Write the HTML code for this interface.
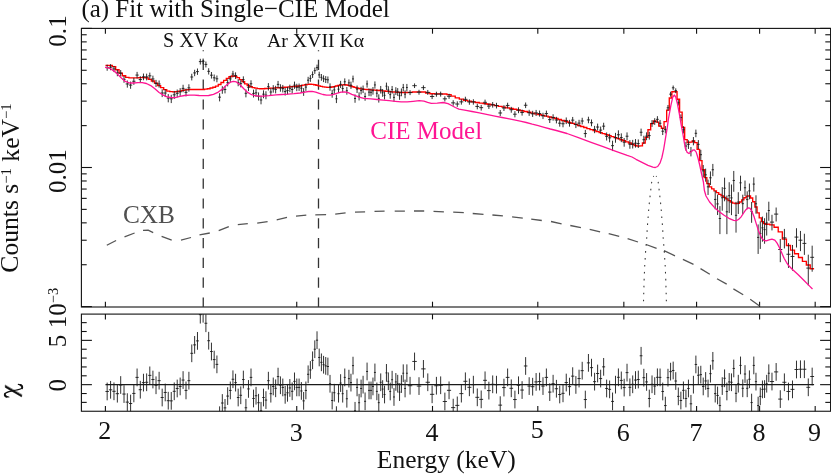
<!DOCTYPE html>
<html><head><meta charset="utf-8"><title>Fit with Single-CIE Model</title>
<style>html,body{margin:0;padding:0;background:#fff;overflow:hidden}svg{display:block;will-change:transform}text{font-family:"Liberation Serif",serif}</style>
</head><body>
<svg width="831" height="474" viewBox="0 0 831 474">
<rect width="831" height="474" fill="#fff"/>
<rect x="81.4" y="28.4" width="749.2" height="278.6" fill="none" stroke="#111" stroke-width="1.1"/>
<rect x="81.4" y="314.1" width="749.2" height="97.15" fill="none" stroke="#111" stroke-width="1.1"/>
<line x1="105.4" y1="28.4" x2="105.4" y2="33.7" stroke="#111" stroke-width="1.1" />
<line x1="105.4" y1="307" x2="105.4" y2="301.7" stroke="#111" stroke-width="1.1" />
<line x1="105.4" y1="314.1" x2="105.4" y2="319.4" stroke="#111" stroke-width="1.1" />
<line x1="105.4" y1="411.25" x2="105.4" y2="405.95" stroke="#111" stroke-width="1.1" />
<line x1="296.74" y1="28.4" x2="296.74" y2="33.7" stroke="#111" stroke-width="1.1" />
<line x1="296.74" y1="307" x2="296.74" y2="301.7" stroke="#111" stroke-width="1.1" />
<line x1="296.74" y1="314.1" x2="296.74" y2="319.4" stroke="#111" stroke-width="1.1" />
<line x1="296.74" y1="411.25" x2="296.74" y2="405.95" stroke="#111" stroke-width="1.1" />
<line x1="432.5" y1="28.4" x2="432.5" y2="33.7" stroke="#111" stroke-width="1.1" />
<line x1="432.5" y1="307" x2="432.5" y2="301.7" stroke="#111" stroke-width="1.1" />
<line x1="432.5" y1="314.1" x2="432.5" y2="319.4" stroke="#111" stroke-width="1.1" />
<line x1="432.5" y1="411.25" x2="432.5" y2="405.95" stroke="#111" stroke-width="1.1" />
<line x1="537.8" y1="28.4" x2="537.8" y2="33.7" stroke="#111" stroke-width="1.1" />
<line x1="537.8" y1="307" x2="537.8" y2="301.7" stroke="#111" stroke-width="1.1" />
<line x1="537.8" y1="314.1" x2="537.8" y2="319.4" stroke="#111" stroke-width="1.1" />
<line x1="537.8" y1="411.25" x2="537.8" y2="405.95" stroke="#111" stroke-width="1.1" />
<line x1="623.84" y1="28.4" x2="623.84" y2="33.7" stroke="#111" stroke-width="1.1" />
<line x1="623.84" y1="307" x2="623.84" y2="301.7" stroke="#111" stroke-width="1.1" />
<line x1="623.84" y1="314.1" x2="623.84" y2="319.4" stroke="#111" stroke-width="1.1" />
<line x1="623.84" y1="411.25" x2="623.84" y2="405.95" stroke="#111" stroke-width="1.1" />
<line x1="696.58" y1="28.4" x2="696.58" y2="33.7" stroke="#111" stroke-width="1.1" />
<line x1="696.58" y1="307" x2="696.58" y2="301.7" stroke="#111" stroke-width="1.1" />
<line x1="696.58" y1="314.1" x2="696.58" y2="319.4" stroke="#111" stroke-width="1.1" />
<line x1="696.58" y1="411.25" x2="696.58" y2="405.95" stroke="#111" stroke-width="1.1" />
<line x1="759.6" y1="28.4" x2="759.6" y2="33.7" stroke="#111" stroke-width="1.1" />
<line x1="759.6" y1="307" x2="759.6" y2="301.7" stroke="#111" stroke-width="1.1" />
<line x1="759.6" y1="314.1" x2="759.6" y2="319.4" stroke="#111" stroke-width="1.1" />
<line x1="759.6" y1="411.25" x2="759.6" y2="405.95" stroke="#111" stroke-width="1.1" />
<line x1="815.18" y1="28.4" x2="815.18" y2="33.7" stroke="#111" stroke-width="1.1" />
<line x1="815.18" y1="307" x2="815.18" y2="301.7" stroke="#111" stroke-width="1.1" />
<line x1="815.18" y1="314.1" x2="815.18" y2="319.4" stroke="#111" stroke-width="1.1" />
<line x1="815.18" y1="411.25" x2="815.18" y2="405.95" stroke="#111" stroke-width="1.1" />
<line x1="81.4" y1="28.4" x2="91.9" y2="28.4" stroke="#111" stroke-width="1.1" />
<line x1="830.6" y1="28.4" x2="820.1" y2="28.4" stroke="#111" stroke-width="1.1" />
<line x1="81.4" y1="167.5" x2="91.9" y2="167.5" stroke="#111" stroke-width="1.1" />
<line x1="830.6" y1="167.5" x2="820.1" y2="167.5" stroke="#111" stroke-width="1.1" />
<line x1="81.4" y1="125.63" x2="86.7" y2="125.63" stroke="#111" stroke-width="1.1" />
<line x1="830.6" y1="125.63" x2="825.3" y2="125.63" stroke="#111" stroke-width="1.1" />
<line x1="81.4" y1="101.13" x2="86.7" y2="101.13" stroke="#111" stroke-width="1.1" />
<line x1="830.6" y1="101.13" x2="825.3" y2="101.13" stroke="#111" stroke-width="1.1" />
<line x1="81.4" y1="83.75" x2="86.7" y2="83.75" stroke="#111" stroke-width="1.1" />
<line x1="830.6" y1="83.75" x2="825.3" y2="83.75" stroke="#111" stroke-width="1.1" />
<line x1="81.4" y1="70.27" x2="86.7" y2="70.27" stroke="#111" stroke-width="1.1" />
<line x1="830.6" y1="70.27" x2="825.3" y2="70.27" stroke="#111" stroke-width="1.1" />
<line x1="81.4" y1="59.26" x2="86.7" y2="59.26" stroke="#111" stroke-width="1.1" />
<line x1="830.6" y1="59.26" x2="825.3" y2="59.26" stroke="#111" stroke-width="1.1" />
<line x1="81.4" y1="49.95" x2="86.7" y2="49.95" stroke="#111" stroke-width="1.1" />
<line x1="830.6" y1="49.95" x2="825.3" y2="49.95" stroke="#111" stroke-width="1.1" />
<line x1="81.4" y1="41.88" x2="86.7" y2="41.88" stroke="#111" stroke-width="1.1" />
<line x1="830.6" y1="41.88" x2="825.3" y2="41.88" stroke="#111" stroke-width="1.1" />
<line x1="81.4" y1="34.76" x2="86.7" y2="34.76" stroke="#111" stroke-width="1.1" />
<line x1="830.6" y1="34.76" x2="825.3" y2="34.76" stroke="#111" stroke-width="1.1" />
<line x1="81.4" y1="306.6" x2="91.9" y2="306.6" stroke="#111" stroke-width="1.1" />
<line x1="830.6" y1="306.6" x2="820.1" y2="306.6" stroke="#111" stroke-width="1.1" />
<line x1="81.4" y1="264.73" x2="86.7" y2="264.73" stroke="#111" stroke-width="1.1" />
<line x1="830.6" y1="264.73" x2="825.3" y2="264.73" stroke="#111" stroke-width="1.1" />
<line x1="81.4" y1="240.23" x2="86.7" y2="240.23" stroke="#111" stroke-width="1.1" />
<line x1="830.6" y1="240.23" x2="825.3" y2="240.23" stroke="#111" stroke-width="1.1" />
<line x1="81.4" y1="222.85" x2="86.7" y2="222.85" stroke="#111" stroke-width="1.1" />
<line x1="830.6" y1="222.85" x2="825.3" y2="222.85" stroke="#111" stroke-width="1.1" />
<line x1="81.4" y1="209.37" x2="86.7" y2="209.37" stroke="#111" stroke-width="1.1" />
<line x1="830.6" y1="209.37" x2="825.3" y2="209.37" stroke="#111" stroke-width="1.1" />
<line x1="81.4" y1="198.36" x2="86.7" y2="198.36" stroke="#111" stroke-width="1.1" />
<line x1="830.6" y1="198.36" x2="825.3" y2="198.36" stroke="#111" stroke-width="1.1" />
<line x1="81.4" y1="189.05" x2="86.7" y2="189.05" stroke="#111" stroke-width="1.1" />
<line x1="830.6" y1="189.05" x2="825.3" y2="189.05" stroke="#111" stroke-width="1.1" />
<line x1="81.4" y1="180.98" x2="86.7" y2="180.98" stroke="#111" stroke-width="1.1" />
<line x1="830.6" y1="180.98" x2="825.3" y2="180.98" stroke="#111" stroke-width="1.1" />
<line x1="81.4" y1="173.86" x2="86.7" y2="173.86" stroke="#111" stroke-width="1.1" />
<line x1="830.6" y1="173.86" x2="825.3" y2="173.86" stroke="#111" stroke-width="1.1" />
<line x1="81.4" y1="402.38" x2="86.7" y2="402.38" stroke="#111" stroke-width="1.1" />
<line x1="830.6" y1="402.38" x2="825.3" y2="402.38" stroke="#111" stroke-width="1.1" />
<line x1="81.4" y1="393.52" x2="86.7" y2="393.52" stroke="#111" stroke-width="1.1" />
<line x1="830.6" y1="393.52" x2="825.3" y2="393.52" stroke="#111" stroke-width="1.1" />
<line x1="81.4" y1="384.66" x2="91.9" y2="384.66" stroke="#111" stroke-width="1.1" />
<line x1="830.6" y1="384.66" x2="820.1" y2="384.66" stroke="#111" stroke-width="1.1" />
<line x1="81.4" y1="375.8" x2="86.7" y2="375.8" stroke="#111" stroke-width="1.1" />
<line x1="830.6" y1="375.8" x2="825.3" y2="375.8" stroke="#111" stroke-width="1.1" />
<line x1="81.4" y1="366.94" x2="86.7" y2="366.94" stroke="#111" stroke-width="1.1" />
<line x1="830.6" y1="366.94" x2="825.3" y2="366.94" stroke="#111" stroke-width="1.1" />
<line x1="81.4" y1="358.08" x2="86.7" y2="358.08" stroke="#111" stroke-width="1.1" />
<line x1="830.6" y1="358.08" x2="825.3" y2="358.08" stroke="#111" stroke-width="1.1" />
<line x1="81.4" y1="349.22" x2="86.7" y2="349.22" stroke="#111" stroke-width="1.1" />
<line x1="830.6" y1="349.22" x2="825.3" y2="349.22" stroke="#111" stroke-width="1.1" />
<line x1="81.4" y1="340.36" x2="91.9" y2="340.36" stroke="#111" stroke-width="1.1" />
<line x1="830.6" y1="340.36" x2="820.1" y2="340.36" stroke="#111" stroke-width="1.1" />
<line x1="81.4" y1="331.5" x2="86.7" y2="331.5" stroke="#111" stroke-width="1.1" />
<line x1="830.6" y1="331.5" x2="825.3" y2="331.5" stroke="#111" stroke-width="1.1" />
<line x1="81.4" y1="322.64" x2="86.7" y2="322.64" stroke="#111" stroke-width="1.1" />
<line x1="830.6" y1="322.64" x2="825.3" y2="322.64" stroke="#111" stroke-width="1.1" />
<path d="M203.25 50.2V51.3M203.25 59.8V70M203.25 79.6V89.8M203.25 99.4V109.6M203.25 119.2V129.4M203.25 139V149.2M203.25 158.8V169M203.25 178.6V188.8M203.25 198.4V208.6M203.25 218.2V228.4M203.25 238V248.2M203.25 257.8V268M203.25 277.6V287.8M203.25 297.4V307" stroke="#333" stroke-width="1.3" fill="none"/>
<path d="M318.5 50.2V51.3M318.5 59.8V70M318.5 79.6V89.8M318.5 99.4V109.6M318.5 119.2V129.4M318.5 139V149.2M318.5 158.8V169M318.5 178.6V188.8M318.5 198.4V208.6M318.5 218.2V228.4M318.5 238V248.2M318.5 257.8V268M318.5 277.6V287.8M318.5 297.4V307" stroke="#333" stroke-width="1.3" fill="none"/>
<path d="M106.8 245.3 L116.1 240.5M124.5 236.8 L134.6 233M143 230.4 L148.1 230.2 L153.2 232.6M161.6 236.3 L171.7 240.2M181 240.2 L191 237.5M199.5 234.8 L209.8 233M218.7 230.7 L228.8 226.6M237.8 224.6 L247.8 223.6M257.2 223.2 L267.6 221.6M276.7 219.8 L287 217.4M296 216.1 L306.3 215.1M315.3 214.8 L326.1 214.7M335.2 214.2 L345.6 212.8M355 212.2 L365.1 211.9M374.5 211.3 L384.6 211.2M394.7 211.2 L404.9 211.2M414 211 L424.2 211M433.5 211.3 L443.9 211.8M453.2 212.2 L463.8 212.7M472.7 213.5 L483.5 214.4M492.4 215 L502.9 215.9M512.1 216.9 L522.8 218.1M531.2 219.1 L541.8 220.5M551 221.5 L561.6 223.8M570.3 225.5 L580.9 227.7M589.7 229.4 L600.1 231.9M608.7 233.6 L619.2 236.4M627.6 238.6 L638 242M646.1 244.5 L656.6 248.4M664 250.6 L675 255.8M682.9 259.4 L693.5 264.4M700.5 268.6 L709.8 274.2M717 278.7 L726.7 284.1M733.4 288.9 L743.2 294.7M750.2 299.3 L759.6 305.9" stroke="#555" stroke-width="1.28" fill="none" stroke-linejoin="round"/>
<path d="M653.65 176 L653.33 177 L653.02 178 L652.7 179 L652.38 180 L652.06 181 L651.75 182 L651.57 183 L651.45 184 L651.34 185 L651.22 186 L651.1 187 L650.99 188 L650.87 189 L650.76 190 L650.65 191 L650.54 192 L650.43 193 L650.32 194 L650.21 195 L650.1 196 L649.99 197 L649.87 198 L649.76 199 L649.64 200 L649.53 201 L649.41 202 L649.3 203 L649.21 204 L649.12 205 L649.03 206 L648.94 207 L648.85 208 L648.76 209 L648.67 210 L648.59 211 L648.52 212 L648.44 213 L648.37 214 L648.3 215 L648.22 216 L648.15 217 L648.07 218 L647.99 219 L647.91 220 L647.83 221 L647.75 222 L647.67 223 L647.59 224 L647.52 225 L647.44 226 L647.37 227 L647.29 228 L647.22 229 L647.14 230 L647.08 231 L647.03 232 L646.98 233 L646.93 234 L646.88 235 L646.83 236 L646.78 237 L646.73 238 L646.64 239 L646.56 240 L646.48 241 L646.39 242 L646.31 243 L646.23 244 L646.15 245 L646.06 246 L645.98 247 L645.9 248 L645.82 249 L645.73 250 L645.65 251 L645.59 252 L645.52 253 L645.46 254 L645.39 255 L645.33 256 L645.26 257 L645.2 258 L645.14 259 L645.07 260 L645.01 261 L644.94 262 L644.88 263 L644.81 264 L644.75 265 L644.71 266 L644.66 267 L644.62 268 L644.58 269 L644.54 270 L644.49 271 L644.45 272 L644.41 273 L644.36 274 L644.32 275 L644.28 276 L644.24 277 L644.19 278 L644.15 279 L644.12 280 L644.09 281 L644.06 282 L644.04 283 L644.01 284 L643.98 285 L643.95 286 L643.92 287 L643.89 288 L643.86 289 L643.84 290 L643.81 291 L643.78 292 L643.75 293 L643.72 294 L643.7 295 L643.67 296 L643.65 297 L643.62 298 L643.6 299 L643.57 300 L643.54 301 L643.52 302 L643.49 303 L643.47 304 L643.44 305 L643.42 306 L643.4 306.6" stroke="#333" stroke-width="1.05" fill="none" stroke-dasharray="1.6 5.35" stroke-dashoffset="0.8"/>
<path d="M656.25 176 L656.57 177 L656.88 178 L657.2 179 L657.52 180 L657.84 181 L658.15 182 L658.33 183 L658.45 184 L658.56 185 L658.68 186 L658.8 187 L658.91 188 L659.03 189 L659.14 190 L659.25 191 L659.36 192 L659.47 193 L659.58 194 L659.69 195 L659.8 196 L659.91 197 L660.03 198 L660.14 199 L660.26 200 L660.37 201 L660.49 202 L660.6 203 L660.69 204 L660.78 205 L660.87 206 L660.96 207 L661.05 208 L661.14 209 L661.23 210 L661.31 211 L661.38 212 L661.46 213 L661.53 214 L661.6 215 L661.68 216 L661.75 217 L661.83 218 L661.91 219 L661.99 220 L662.07 221 L662.15 222 L662.23 223 L662.31 224 L662.38 225 L662.46 226 L662.53 227 L662.61 228 L662.68 229 L662.76 230 L662.82 231 L662.87 232 L662.92 233 L662.97 234 L663.02 235 L663.07 236 L663.12 237 L663.17 238 L663.26 239 L663.34 240 L663.42 241 L663.51 242 L663.59 243 L663.67 244 L663.75 245 L663.84 246 L663.92 247 L664 248 L664.08 249 L664.17 250 L664.25 251 L664.31 252 L664.38 253 L664.44 254 L664.51 255 L664.57 256 L664.64 257 L664.7 258 L664.76 259 L664.83 260 L664.89 261 L664.96 262 L665.02 263 L665.09 264 L665.15 265 L665.19 266 L665.24 267 L665.28 268 L665.32 269 L665.36 270 L665.41 271 L665.45 272 L665.49 273 L665.54 274 L665.58 275 L665.62 276 L665.66 277 L665.71 278 L665.75 279 L665.78 280 L665.81 281 L665.84 282 L665.86 283 L665.89 284 L665.92 285 L665.95 286 L665.98 287 L666.01 288 L666.04 289 L666.06 290 L666.09 291 L666.12 292 L666.15 293 L666.18 294 L666.2 295 L666.23 296 L666.25 297 L666.28 298 L666.3 299 L666.33 300 L666.36 301 L666.38 302 L666.41 303 L666.43 304 L666.46 305 L666.48 306 L666.5 306.6" stroke="#333" stroke-width="1.05" fill="none" stroke-dasharray="1.6 5.35" stroke-dashoffset="0.8"/>
<path d="M105.45 65.33H108.88V65.37H112.29V66.66H115.67V69.75H119.03V73.05H122.36V75.73H125.67V77.3H128.96V77.83H132.23V77.9H135.47V77.82H138.69V77.62H141.89V77.56H145.07V77.83H148.23V79.4H151.36V80.98H154.48V83.1H157.57V85.61H160.65V87.62H163.7V89.68H166.74V91.05H169.75V91.64H172.75V91.9H175.72V91.68H178.68V91.11H181.62V90.38H184.55V89.85H187.45V89.55H190.34V89.5H193.2V89.5H196.06V89.5H198.89V89.5H201.71V89.5H204.51V89.17H207.29V88.7H210.06V88.02H212.81V87.22H215.55V86.08H218.27V84.51H220.97V82.49H223.66V80.32H226.33V78.33H228.99V76.75H231.64V76.02H234.27V76.33H236.88V77.69H239.48V79.55H242.07V81.69H244.64V83.83H247.2V85.53H249.74V86.77H252.27V87.61H254.79V88.17H257.29V88.59H259.78V88.7H262.26V88.7H264.72V88.54H267.17V88.34H269.61V88.19H272.04V88.06H274.45V87.92H276.85V87.76H279.24V87.6H281.62V87.45H283.99V87.29H286.34V87.13H288.68V86.92H291.01V86.69H293.33V86.46H295.64V86.23H297.93V86H300.22V85.64H302.49V85.17H304.76V84.74H307.01V84.36H309.25V84.25H311.48V84.3H313.7V84.73H315.91V85.27H318.11V85.88H320.3V86.37H322.48V86.81H324.65V87.16H326.81V87.3H328.96V87.3H331.1V86.97H333.23V86.56H335.35V85.97H337.47V85.45H339.57V84.99H341.66V84.81H343.74V84.72H345.82V84.95H347.88V85.34H349.94V86.02H351.99V86.7H354.03V87.38H356.06V87.96H358.08V88.51H360.09V88.84H362.09V89.17H364.09V89.38H366.08V89.52H368.05V89.66H370.02V89.8H371.99V89.96H373.94V90.13H375.89V90.29H377.82V90.48H379.75V90.67H381.68V90.85H383.59V91.04H385.5V91.23H387.4V91.42H389.29V91.61H391.17V91.8H393.05V91.99H394.92V92.15H396.78V92.27H398.63V92.4H400.48V92.5H402.32V92.5H404.15V92.5H405.98V92.5H407.8V92.3H412.31V92.03H416.79V91.81H421.22V91.98H425.61V93.04H429.96V93.73H434.27V93.87H438.54V93.9H442.77V94.04H446.96V94.65H451.12V96.19H455.24V97.87H459.33V99.19H463.38V100.33H467.4V101.18H471.38V101.9H475.33V102.48H479.24V103.06H483.13V103.64H486.98V104.22H490.8V104.88H494.59V105.57H498.35V106.32H502.08V107.07H505.78V107.8H509.46V108.53H513.1V109.24H516.72V109.96H520.3V110.71H523.87V111.48H527.4V112.29H530.91V113.1H534.39V113.85H537.85V114.6H541.28V115.34H544.69V116.14H548.07V116.97H551.43V117.75H554.76V118.54H558.08V119.52H561.36V120.5H564.63V121.48H567.87V122.43H571.1V123.38H574.29V124.43H577.47V125.48H580.63V126.48H583.76V127.48H586.88V128.57H589.97V129.64H593.05V130.66H596.1V131.67H599.14V132.68H602.15V133.68H605.15V134.66H608.13V135.64H611.09V136.62H614.03V137.61H616.95V138.67H619.85V139.74H622.74V140.79H625.61V141.84H628.46V143.02H631.29V144.21H634.11V145.46H636.91V146.1H639.69V145.92H642.46V143.01H645.21V137.36H647.95V129.78H650.67V123.58H653.37V120.91H656.06V122.1H658.74V126.1H661.39V128.42H664.04V121.58H666.67V110.14H669.28V97.96H671.88V91.7H674.47V91.7H677.04V99.26H679.6V112.08H682.14V127.43H684.67V139.56H687.19V142.63H689.69V142.14H692.18V141.03H694.66V142.65H697.12V149.3H699.57V160.68H702.01V169.62H704.44V177.61H706.85V183.65H709.26V186.83H711.64V188.91H714.02V190.82H716.39V192.66H718.74V194.38H721.08V195.93H723.41V197.36H725.73V198.9H728.04V200.56H730.34V202.09H732.62V203.08H734.9V203.54H737.16V203.31H739.41V201.96H741.65V199.83H743.88V197.7H746.11V196.06H748.32V195.89H750.52V197.99H752.71V201.77H754.89V206.97H757.06V212.85H759.21V217.86H761.36V221.61H763.5V223.65H765.64V224.24H767.76V224.15H769.87V224.89H774.06V227.25H778.22V231.84H782.34V239.11H786.43V245.47H790.48V250.09H794.49V253.78H798.48V257.54H802.43V261.37H806.34V264.99H810.23V268.79H814.08" stroke="#ff0000" stroke-width="1.35" fill="none" stroke-linejoin="miter"/>
<path d="M105.45 67.63H108.88M107.17 64.66V70.76M108.88 67.11H112.29M110.59 64.15V70.22M112.29 68.93H115.67M113.98 65.92V72.1M115.67 72.94H119.03M117.35 69.81V76.24M119.03 73.17H122.36M120.7 70.04V76.48M122.36 79.25H125.67M124.02 75.93V82.76M125.67 83.96H128.96M127.32 80.48V87.64M128.96 85.08H132.23M130.6 81.57V88.8M132.23 81.25H135.47M133.85 77.87V84.83M135.47 75.08H138.69M137.09 71.89V78.45M138.69 79.54H141.89M140.3 76.21V83.06M141.89 76.79H145.07M143.48 73.55V80.22M145.07 76.92H148.23M146.65 73.67V80.35M148.23 75.83H151.36M149.8 72.62V79.22M151.36 78.98H154.48M152.92 75.67V82.48M154.48 83.35H157.57M156.03 79.9V87.01M157.57 83.98H160.65M159.11 80.5V87.66M160.65 93.04H163.7M162.18 89.25V97.09M163.7 93.03H166.74M165.22 89.24V97.07M166.74 98.08H169.75M168.25 94.09V102.34M169.75 98.8H172.75M171.25 94.78V103.09M172.75 94.82H175.72M174.24 90.96V98.94M175.72 93.34H178.68M177.21 89.54V97.4M178.68 91.88H181.62M180.16 88.13V95.88M181.62 88.4H184.55M183.09 84.78V92.26M184.55 92.33H187.45M186 88.56V96.35M187.45 87.86H190.34M188.9 84.25V91.69M190.34 77H193.2M191.77 73.75V80.43M193.2 72.9H196.06M194.63 69.77V76.2M196.06 71.6H198.89M197.48 68.51V74.85M198.89 61.6H201.71M200.3 58.79V64.55M201.71 61.3H204.51M203.11 58.5V64.24M204.51 64.4H207.29M205.9 61.51V67.43M207.29 71.3H210.06M208.68 68.22V74.54M210.06 75.2H212.81M211.44 72.01V78.57M212.81 77.8H215.55M214.18 74.53V81.26M215.55 78.8H218.27M216.91 75.49V82.3M218.27 97.17H220.97M219.62 93.22V101.39M220.97 89.86H223.66M222.32 86.19V93.78M223.66 89.48H226.33M225 85.82V93.38M226.33 82.72H228.99M227.67 79.29V86.35M228.99 78.92H231.64M230.32 75.61V82.42M231.64 74.01H234.27M232.95 70.85V77.34M234.27 75.57H236.88M235.57 72.37V78.96M236.88 82.6H239.48M238.18 79.17V86.23M239.48 83.68H242.07M240.77 80.22V87.35M242.07 79.67H244.64M243.35 76.34V83.2M244.64 93.29H247.2M245.92 89.49V97.35M247.2 87.28H249.74M248.47 83.7V91.09M249.74 83.77H252.27M251.01 80.3V87.45M252.27 93.45H254.79M253.53 89.64V97.51M254.79 92.87H257.29M256.04 89.08V96.91M257.29 96.33H259.78M258.54 92.41V100.52M259.78 99.97H262.26M261.02 95.91V104.32M262.26 94.18H264.72M263.49 90.35V98.28M264.72 95.12H267.17M265.95 91.25V99.26M267.17 86.67H269.61M268.39 83.1V90.45M269.61 92.02H272.04M270.83 88.26V96.02M272.04 88.8H274.45M273.25 85.16V92.67M274.45 89.45H276.85M275.65 85.79V93.35M276.85 84.4H279.24M278.05 80.92V88.11M279.24 87.86H281.62M280.43 84.26V91.7M281.62 88.6H283.99M282.8 84.96V92.46M283.99 91.57H286.34M285.16 87.83V95.55M286.34 90.55H288.68M287.51 86.84V94.49M288.68 88.28H291.01M289.85 84.66V92.13M291.01 89.46H293.33M292.17 85.79V93.36M293.33 85.11H295.64M294.49 81.6V88.84M295.64 87.37H297.93M296.79 83.78V91.18M297.93 87.13H300.22M299.08 83.55V90.94M300.22 88.23H302.49M301.36 84.61V92.08M302.49 91.86H304.76M303.63 88.11V95.85M304.76 87.09H307.01M305.89 83.51V90.89M307.01 80.19H309.25M308.13 76.84V83.74M309.25 78.35H311.48M310.37 75.06V81.84M311.48 74.59H313.7M312.59 71.41V77.94M313.7 70.65H315.91M314.81 67.59V73.87M315.91 67.62H318.11M317.02 64.64V70.74M318.11 74.89H320.3M319.21 71.71V78.26M320.3 77.28H322.48M321.4 74.02V80.72M322.48 78.65H324.65M323.57 75.35V82.14M324.65 79.44H326.81M325.73 76.11V82.96M326.81 79.82H328.96M327.89 76.48V83.35M328.96 86.93H331.1M330.03 83.36V90.73M331.1 93.64H333.23M332.17 89.82V97.71M333.23 89.92H335.35M334.3 86.24V93.84M335.35 98.79H337.47M336.41 94.77V103.09M337.47 89.17H339.57M338.52 85.52V93.06M339.57 84.34H341.66M340.62 80.85V88.03M341.66 88.5H343.74M342.7 84.88V92.36M343.74 81.78H345.82M344.78 78.38V85.39M345.82 90.74H347.88M346.85 87.04V94.69M347.88 82.88H349.94M348.91 79.45V86.53M349.94 85.18H351.99M350.96 81.67V88.91M351.99 78.91H354.03M353.01 75.6V82.41M354.03 98.5H356.06M355.04 94.49V102.78M356.06 89.12H358.08M357.07 85.47V93M358.08 96.25H360.09M359.08 92.33V100.43M360.09 90.46H362.09M361.09 86.76V94.4M362.09 89.17H364.09M363.09 85.52V93.05M364.09 96.56H366.08M365.08 92.64V100.76M366.08 83.95H368.05M367.07 80.48V87.63M368.05 92.13H370.02M369.04 88.37V96.14M370.02 92.27H371.99M371.01 88.51V96.29M371.99 90.72H373.94M372.96 87.02V94.67M373.94 84.93H375.89M374.91 81.42V88.65M375.89 93.2H377.82M376.86 89.4V97.25M377.82 98.33H379.75M378.79 94.33V102.6M379.75 89.64H381.68M380.72 85.97V93.54M381.68 92.78H383.59M382.63 88.99V96.81M383.59 95.33H385.5M384.55 91.46V99.48M385.5 86.17H387.4M386.45 82.62V89.94M387.4 89.96H389.29M388.34 86.28V93.88M389.29 94.6H391.17M390.23 90.75V98.71M391.17 89.64H393.05M392.11 85.98V93.55M393.05 97.42H394.92M393.98 93.46V101.66M394.92 90.95H396.78M395.85 87.23V94.91M396.78 91.85H398.63M397.71 88.1V95.84M398.63 95.68H400.48M399.56 91.79V99.84M400.48 92.23H402.32M401.4 88.47V96.24M402.32 87.52H404.15M403.24 83.93V91.35M404.15 94.18H405.98M405.07 90.34V98.27M405.98 87.52H407.8M406.89 83.93V91.35M407.8 92.6H412.31M410.06 90.18V95.11M412.31 85.68H416.79M414.55 83.43V88.03M416.79 92.2H421.22M419.01 89.8V94.71M421.22 87.65H425.61M423.42 85.35V90.04M425.61 92.37H429.96M427.79 89.96V94.88M429.96 96.46H434.27M432.12 93.95V99.08M434.27 94.17H438.54M436.41 91.72V96.73M438.54 94.07H442.77M440.66 91.62V96.63M442.77 98.83H446.96M444.87 96.26V101.52M446.96 96.26H451.12M449.05 93.76V98.88M451.12 102.89H455.24M453.19 100.21V105.69M455.24 104.03H459.33M457.29 101.32V106.87M459.33 101.87H463.38M461.36 99.22V104.64M463.38 99.32H467.4M465.39 96.73V102.02M467.4 101.99H471.38M469.39 99.33V104.76M471.38 101.9H475.33M473.36 99.25V104.67M475.33 106.41H479.24M477.29 103.64V109.32M479.24 107.66H483.13M481.19 104.85V110.61M483.13 102.3H486.98M485.06 99.63V105.08M486.98 106.09H490.8M488.89 103.32V108.98M490.8 104.76H494.59M492.7 102.04V107.62M494.59 105.57H498.35M496.47 102.82V108.46M498.35 112.97H502.08M500.22 110V116.09M502.08 108.01H505.78M503.94 105.19V110.97M505.78 105.45H509.46M507.62 102.71V108.33M509.46 109.72H513.1M511.28 106.85V112.73M513.1 114.21H516.72M514.91 111.2V117.37M516.72 110.17H520.3M518.51 107.29V113.2M520.3 112.53H523.87M522.09 109.57V115.64M523.87 105.25H527.4M525.64 102.51V108.12M527.4 112.77H530.91M529.16 109.81V115.89M530.91 113.8H534.39M532.65 110.81V116.95M534.39 112.9H537.85M536.12 109.93V116.02M537.85 113.52H541.28M539.57 110.53V116.66M541.28 115.84H544.69M542.99 112.78V119.06M544.69 113.57H548.07M546.38 110.59V116.71M548.07 119.65H551.43M549.75 116.47V123.01M551.43 117.4H554.76M553.1 114.29V120.68M554.76 120.03H558.08M556.42 116.83V123.4M558.08 123.18H561.36M559.72 119.87V126.67M561.36 123.76H564.63M563 120.44V127.28M564.63 120.68H567.87M566.26 117.46V124.08M567.87 123.18H571.1M569.49 119.87V126.67M571.1 120.14H574.29M572.7 116.94V123.52M574.29 124.53H577.47M575.89 121.18V128.08M577.47 123.1H580.63M579.05 119.8V126.59M580.63 121H583.76M582.2 117.77V124.41M583.76 133.56H586.88M585.32 129.87V137.49M586.88 119.91H589.97M588.43 116.72V123.28M589.97 122.77H593.05M591.51 119.48V126.25M593.05 129.41H596.1M594.58 125.88V133.16M596.1 127.04H599.14M597.62 123.6V130.69M599.14 130.1H602.15M600.65 126.54V133.88M602.15 126.16H605.15M603.65 122.75V129.79M605.15 136.36H608.13M606.64 132.48V140.5M608.13 137.87H611.09M609.61 133.72V142.32M611.09 145.67H614.03M612.56 140.71V151.06M614.03 137.61H616.95M615.49 132.89V142.72M616.95 134.74H619.85M618.4 130.32V139.51M619.85 137.6H622.74M621.3 133.37V142.14M622.74 142.2H625.61M624.17 138.02V146.69M625.61 136.22H628.46M627.03 132.4V140.3M628.46 144.29H631.29M629.88 140.13V148.76M631.29 144.04H634.11M632.7 139.89V148.49M634.11 143.21H636.91M635.51 139.1V147.62M636.91 143.57H639.69M638.3 139.45V148M639.69 132.25H642.46M641.08 128.61V136.13M642.46 139.7H645.21M643.84 135.75V143.92M645.21 136.14H647.95M646.58 132.34V140.19M647.95 135.58H650.67M649.31 131.8V139.6M650.67 123.44H653.37M652.02 120.13V126.95M653.37 121.44H656.06M654.72 118.2V124.87M656.06 119.34H658.74M657.4 116.16V122.68M658.74 123.25H661.39M660.07 119.94V126.75M661.39 131.21H664.04M662.72 127.61V135.04M664.04 129.62H666.67M665.35 126.08V133.38M666.67 107.82H669.28M667.98 105V110.77M669.28 94.17H671.88M670.58 91.71V96.72M671.88 87.82H674.47M673.18 85.52V90.22M674.47 90.7H677.04M675.76 88.33V93.17M677.04 102.77H679.6M678.32 100.09V105.56M679.6 117.54H682.14M680.87 114.43V120.82M682.14 129.72H684.67M683.41 126.18V133.48M684.67 146.05H687.19M685.93 141.81V150.61M687.19 144.45H689.69M688.44 140.29V148.93M689.69 151.49H692.18M690.94 146.98V156.36M692.18 141.03H694.66M693.42 137.03V145.33M694.66 133.3H697.12M695.89 129.62V137.22M697.12 144.39H699.57M698.35 140.09V149.01M699.57 154.69H702.01M700.8 149.85V159.96M702.01 170.85H704.44M703.23 164.97V177.36M704.44 174.82H706.85M705.65 168.65V181.69M706.85 186.84H709.26M708.06 179.67V194.97M709.26 177.8H711.64M710.45 171.4V184.97M711.64 169.75H714.02M712.83 163.93V176.18M714.02 199.43H716.39M715.21 190.9V209.37M716.39 203.92H718.74M717.57 194.54V215.02M718.74 218.5H721.08M719.91 206.11V234.11M721.08 197.77H723.41M722.25 187.12V210.69M723.41 188.32H725.73M724.57 177.65V201.28M725.73 211.81H728.04M726.89 195.52V234.17M728.04 195.69H730.34M729.19 182.23V213.05M730.34 197.9H732.62M731.48 184.51V215.12M732.62 180.46H734.9M733.76 170.95V191.77M734.9 215.3H737.16M736.03 201.85V232.63M737.16 202.11H739.41M738.29 192.21V213.96M739.41 182.82H741.65M740.53 175.7V190.9M741.65 203.67H743.88M742.77 194.7V214.21M743.88 187.75H746.11M745 180.55V195.92M746.11 199.6H748.32M747.21 191.31V209.21M748.32 190.91H750.52M749.42 183.53V199.3M750.52 211.5H752.71M751.61 201.99V222.79M752.71 184.08H754.89M753.8 177.39V191.59M754.89 203.79H757.06M755.97 195.3V213.67M757.06 237.4H759.21M758.14 224.42V253.96M759.21 233.55H761.36M760.29 221.3V248.92M761.36 227.85H763.5M762.44 216.58V241.71M763.5 229.64H765.64M764.57 218.21V243.75M765.64 222.98H767.76M766.7 212.58V235.55M767.76 210.5H769.87M768.81 201.69V220.8M769.87 222.11H774.06M771.97 214.81V230.41M774.06 214.1H778.22M776.15 207.52V221.49M778.22 249.5H782.34M780.29 239.02V262.18M782.34 237.9H786.43M784.39 228.92V248.45M786.43 254.24H790.48M788.46 243.08V267.94M790.48 256.45H794.49M792.49 244.96V270.67M794.49 237.1H798.48M796.49 228.22V247.52M798.48 240.2H802.43M800.46 230.94V251.14M802.43 243.4H806.34M804.39 233.74V254.9M806.34 268.1H810.23M808.29 254.66V285.41M810.23 257.3H814.08M812.16 245.67V271.71" stroke="#1a1a1a" stroke-width="0.9" fill="none"/>
<path d="M105.1 67.1 L110.6 68.7 L115.8 72.4 L121.1 77.7 L125.3 81.4 L129.6 83 L133.8 83 L138 82.7 L142.2 82.7 L146.4 83.5 L150.7 85.6 L154.9 88.8 L159.1 92.5 L163.3 95.1 L167.5 97 L171.8 97.7 L176 97.5 L179.8 96.3 L184.6 95.5 L189.4 95.1 L194.3 95.1 L199.1 95.5 L203.9 95.7 L208.7 95.5 L213.5 94.3 L218.3 92.1 L223.1 88.5 L226.7 84.9 L230.4 82.2 L233.4 81.3 L236.4 81.9 L240 84.7 L243.6 88.5 L247.2 92.1 L250.8 94.3 L254.4 95.5 L259.2 96.1 L264 96.1 L268.9 95.7 L276 94.9 L282 94.5 L288 94.2 L294.1 93.7 L300.1 93 L304.9 92.1 L308.5 91.5 L312.1 91.4 L315.7 92.1 L319.3 93.3 L322.9 94.5 L326.6 95.1 L330.2 95.1 L333.8 94.3 L337.4 93.1 L341 92.1 L344.6 91.9 L348.2 92.7 L351.8 94.3 L355.4 95.7 L359 97.2 L363.9 98.4 L371 98.9 L377 99.5 L383.1 100.1 L389.1 100.7 L395.1 101.3 L401.1 101.9 L407.1 101.9 L413.1 101.3 L419.2 100.7 L424 101.2 L427.6 102.4 L431.2 103.3 L437.2 103.1 L443.2 102.5 L448 103.6 L451.6 105.5 L455.3 107.5 L458.9 109.1 L466 110.3 L472 111.5 L478.1 112.7 L484.1 113.9 L490.1 115.1 L496.1 116.3 L502.1 117.5 L508.1 118.7 L514.2 119.9 L520.2 121.2 L526.2 122.5 L532.2 124.2 L538.2 125.7 L544.2 127.3 L550.3 129 L556.3 130.5 L567 133.5 L579.1 137.9 L591.1 142.4 L603.1 146.7 L615.2 151.1 L627.2 155.4 L632 157 L636 159.3 L642 162.3 L648 165.3 L652.9 167.1 L655.3 167.5 L657.7 166.5 L660.1 162.9 L661.9 157.5 L663.7 149.1 L665.5 138.2 L667.3 127.4 L668.5 118.5 L670.9 105.3 L672.7 97.4 L674.3 95 L675.7 96.8 L677.5 104.1 L679.3 113.7 L681.1 124.5 L683 134.5 L684.2 141.8 L685.4 148.5 L687.2 152.4 L689 153.5 L690.8 152.1 L692.6 150.2 L694.4 149.9 L696.2 152.1 L698 158 L699.8 165.5 L701.6 174 L703.4 182 L704.4 190.5 L706 196 L709.6 202 L714.4 207.4 L719.3 211.7 L724.1 215.3 L728.9 218.3 L733.7 220.3 L736.1 220.7 L738.5 219.5 L740.9 217.1 L743.3 213.5 L745.7 209.9 L748.1 207.8 L749.9 208.1 L751.7 211.1 L754.2 217.1 L756.6 224.9 L759 232.1 L761.4 237.5 L763.8 240.3 L766.2 240.8 L769 239.9 L771.9 239.1 L774.8 240.2 L777.1 243.1 L779.5 247.8 L781.8 253 L784.1 258.2 L786.4 262.3 L788.8 265.8 L792.2 269.2 L798 274.5 L803.8 280.3 L809.6 286.1 L812.5 289" stroke="#ff1493" stroke-width="1.3" fill="none" stroke-linejoin="round"/>
<path d="M105.45 384.66H814.08" stroke="#1a1a1a" stroke-width="1.1" fill="none"/>
<path d="M105.45 391.48H108.88M107.17 382.62V400.34M108.88 389.8H112.29M110.59 380.94V398.66M112.29 391.31H115.67M113.98 382.44V400.17M115.67 393.7H119.03M117.35 384.84V402.56M119.03 385.01H122.36M120.7 376.15V393.87M122.36 394.05H125.67M124.02 385.19V402.91M125.67 402.11H128.96M127.32 393.25V410.97M128.96 403.53H132.23M130.6 394.67V411.25M132.23 393.43H135.47M133.85 384.57V402.29M135.47 377.39H138.69M137.09 368.53V386.25M138.69 389.71H141.89M140.3 380.85V398.57M141.89 382.62H145.07M143.48 373.76V391.48M145.07 382.27H148.23M146.65 373.41V391.13M148.23 375.36H151.36M149.8 366.5V384.22M151.36 379.52H154.48M152.92 370.66V388.38M154.48 385.28H157.57M156.03 376.42V394.14M157.57 380.67H160.65M159.11 371.81V389.53M160.65 397.51H163.7M162.18 388.65V406.37M163.7 392.46H166.74M165.22 383.6V401.32M166.74 400.7H169.75M168.25 391.84V409.56M169.75 400.87H172.75M171.25 392.01V409.73M172.75 391.31H175.72M174.24 382.44V400.17M175.72 388.47H178.68M177.21 379.61V397.33M178.68 386.43H181.62M180.16 377.57V395.29M181.62 380.05H184.55M183.09 371.19V388.91M184.55 390.42H187.45M186 381.56V399.28M187.45 380.67H190.34M188.9 371.81V389.53M190.34 353.3H193.2M191.77 344.44V362.16M193.2 344.88H196.06M194.63 336.02V353.74M196.06 340.89H198.89M197.48 332.03V349.75M198.89 314.67H201.71M200.3 314.1V323.53M203.11 314.1V322.64M204.51 323.26H207.29M205.9 314.4V332.12M207.29 340.71H210.06M208.68 331.85V349.57M210.06 351.52H212.81M211.44 342.66V360.38M212.81 359.59H215.55M214.18 350.73V368.45M215.55 364.37H218.27M216.91 355.51V373.23M219.62 406.37V411.25M220.97 403H223.66M222.32 394.14V411.25M223.66 407.87H226.33M225 399.01V411.25M226.33 396.09H228.99M227.67 387.23V404.95M228.99 390.42H231.64M230.32 381.56V399.28M231.64 379.26H234.27M232.95 370.4V388.12M234.27 382.62H236.88M235.57 373.76V391.48M236.88 397.51H239.48M238.18 388.65V406.37M239.48 395.29H242.07M240.77 386.43V404.15M242.07 379.52H244.64M243.35 370.66V388.38M244.64 407.78H247.2M245.92 398.92V411.25M247.2 388.91H249.74M248.47 380.05V397.77M249.74 377.39H252.27M251.01 368.53V386.25M252.27 398.48H254.79M253.53 389.62V407.34M254.79 395.74H257.29M256.04 386.88V404.6M257.29 402.73H259.78M258.54 393.87V411.25M259.78 410.8H262.26M261.02 401.94V411.25M262.26 397.51H264.72M263.49 388.65V406.37M264.72 400.08H267.17M265.95 391.22V408.94M267.17 380.67H269.61M268.39 371.81V389.53M269.61 393.7H272.04M270.83 384.84V402.56M272.04 386.43H274.45M273.25 377.57V395.29M274.45 388.29H276.85M275.65 379.43V397.15M276.85 376.6H279.24M278.05 367.74V385.46M279.24 385.28H281.62M280.43 376.42V394.14M281.62 387.41H283.99M282.8 378.55V396.27M283.99 394.85H286.34M285.16 385.99V403.71M286.34 392.81H288.68M287.51 383.95V401.67M288.68 387.94H291.01M289.85 379.08V396.8M291.01 391.31H293.33M292.17 382.44V400.17M293.33 381.38H295.64M294.49 372.52V390.24M295.64 387.41H297.93M296.79 378.55V396.27M297.93 387.41H300.22M299.08 378.55V396.27M300.22 390.95H302.49M301.36 382.09V399.81M302.49 400.87H304.76M303.63 392.01V409.73M304.76 390.42H307.01M305.89 381.56V399.28M307.01 374.29H309.25M308.13 365.43V383.15M309.25 369.95H311.48M310.37 361.09V378.81M311.48 360.3H313.7M312.59 351.44V369.16M313.7 349.22H315.91M314.81 340.36V358.08M315.91 340.18H318.11M317.02 331.32V349.04M318.11 357.46H320.3M319.21 348.6V366.32M320.3 362.33H322.48M321.4 353.47V371.19M322.48 364.73H324.65M323.57 355.87V373.59M324.65 365.88H326.81M325.73 357.02V374.74M326.81 366.5H328.96M327.89 357.64V375.36M328.96 383.77H331.1M330.03 374.91V392.63M331.1 400.52H333.23M332.17 391.66V409.38M333.23 392.72H335.35M334.3 383.86V401.58M336.41 406.28V411.25M337.47 393.7H339.57M338.52 384.84V402.56M339.57 383.07H341.66M340.62 374.21V391.93M341.66 393.7H343.74M342.7 384.84V402.56M343.74 377.39H345.82M344.78 368.53V386.25M345.82 398.75H347.88M346.85 389.89V407.61M347.88 378.64H349.94M348.91 369.78V387.5M349.94 382.62H351.99M350.96 373.76V391.48M351.99 365.61H354.03M353.01 356.75V374.47M354.03 410.8H356.06M355.04 401.94V411.25M356.06 387.41H358.08M357.07 378.55V396.27M358.08 402.73H360.09M359.08 393.87V411.25M360.09 388.47H362.09M361.09 379.61V397.33M362.09 384.66H364.09M363.09 375.8V393.52M364.09 401.32H366.08M365.08 392.46V410.18M366.08 371.46H368.05M367.07 362.6V380.32M368.05 390.42H370.02M369.04 381.56V399.28M370.02 390.42H371.99M371.01 381.56V399.28M371.99 386.43H373.94M372.96 377.57V395.29M373.94 372.43H375.89M374.91 363.57V381.29M375.89 391.39H377.82M376.86 382.53V400.25M377.82 402.65H379.75M378.79 393.79V411.25M379.75 382.27H381.68M380.72 373.41V391.13M381.68 389.09H383.59M382.63 380.23V397.95M383.59 394.49H385.5M384.55 385.63V403.35M385.5 372.88H387.4M386.45 364.02V381.74M387.4 381.29H389.29M388.34 372.43V390.15M389.29 391.48H391.17M390.23 382.62V400.34M391.17 379.7H393.05M392.11 370.84V388.56M393.05 396.98H394.92M393.98 388.12V405.84M394.92 381.91H396.78M395.85 373.05V390.77M396.78 383.69H398.63M397.71 374.83V392.55M398.63 392.1H400.48M399.56 383.24V400.96M400.48 384.04H402.32M401.4 375.18V392.9M402.32 373.23H404.15M403.24 364.37V382.09M404.15 388.47H405.98M405.07 379.61V397.33M405.98 373.23H407.8M406.89 364.37V382.09M407.8 385.72H412.31M410.06 376.86V394.58M412.31 361.45H416.79M414.55 352.59V370.31M416.79 386.08H421.22M419.01 377.22V394.94M421.22 368.89H425.61M423.42 360.03V377.75M425.61 382.27H429.96M427.79 373.41V391.13M429.96 394.32H434.27M432.12 385.46V403.18M434.27 385.72H438.54M436.41 376.86V394.58M438.54 385.28H442.77M440.66 376.42V394.14M442.77 401.49H446.96M444.87 392.63V410.35M446.96 390.33H451.12M449.05 381.47V399.19M451.12 407.61H455.24M453.19 398.75V411.25M455.24 405.39H459.33M457.29 396.53V411.25M459.33 393.61H463.38M461.36 384.75V402.47M463.38 381.29H467.4M465.39 372.43V390.15M467.4 387.32H471.38M469.39 378.46V396.18M471.38 384.66H475.33M473.36 375.8V393.52M475.33 397.33H479.24M477.29 388.47V406.19M479.24 399.37H483.13M481.19 390.51V408.23M483.13 380.32H486.98M485.06 371.46V389.18M486.98 390.6H490.8M488.89 381.74V399.46M490.8 384.31H494.59M492.7 375.45V393.17M494.59 384.66H498.35M496.47 375.8V393.52M498.35 405.13H502.08M500.22 396.27V411.25M502.08 387.58H505.78M503.94 378.72V396.44M505.78 377.39H509.46M507.62 368.53V386.25M509.46 388.29H513.1M511.28 379.43V397.15M513.1 399.54H516.72M514.91 390.68V408.4M516.72 385.28H520.3M518.51 376.42V394.14M520.3 390.06H523.87M522.09 381.2V398.92M523.87 365.97H527.4M525.64 357.11V374.83M527.4 386.08H530.91M529.16 377.22V394.94M530.91 386.7H534.39M532.65 377.84V395.56M534.39 381.91H537.85M536.12 373.05V390.77M537.85 381.56H541.28M539.57 372.7V390.42M541.28 386.08H544.69M542.99 377.22V394.94M544.69 377.39H548.07M546.38 368.53V386.25M548.07 392.1H551.43M549.75 383.24V400.96M551.43 383.69H554.76M553.1 374.83V392.55M554.76 388.74H558.08M556.42 379.88V397.6M558.08 394.49H561.36M559.72 385.63V403.35M561.36 393.34H564.63M563 384.48V402.2M564.63 382.53H567.87M566.26 373.67V391.39M567.87 386.61H571.1M569.49 377.75V395.47M571.1 376.15H574.29M572.7 367.29V385.01M574.29 384.93H577.47M575.89 376.07V393.79M577.47 378.55H580.63M579.05 369.69V387.41M580.63 370.66H583.76M582.2 361.8V379.52M583.76 399.54H586.88M585.32 390.68V408.4M586.88 362.86H589.97M588.43 354V371.72M589.97 367.65H593.05M591.51 358.79V376.51M593.05 381.65H596.1M594.58 372.79V390.51M596.1 373.5H599.14M597.62 364.64V382.36M599.14 378.55H602.15M600.65 369.69V387.41M602.15 366.85H605.15M603.65 357.99V375.71M605.15 388.47H608.13M606.64 379.61V397.33M608.13 389.36H611.09M609.61 380.5V398.22M611.09 401.41H614.03M612.56 392.55V410.27M614.03 384.66H616.95M615.49 375.8V393.52M616.95 377.31H619.85M618.4 368.45V386.17M619.85 380.41H622.74M621.3 371.55V389.27M622.74 387.58H625.61M624.17 378.72V396.44M625.61 372.61H628.46M627.03 363.75V381.47M628.46 387.32H631.29M629.88 378.46V396.18M631.29 384.31H634.11M632.7 375.45V393.17M634.11 380.05H636.91M635.51 371.19V388.91M636.91 379.52H639.69M638.3 370.66V388.38M639.69 355.78H642.46M641.08 346.92V364.64M642.46 377.66H645.21M643.84 368.8V386.52M645.21 381.91H647.95M646.58 373.05V390.77M647.95 398.48H650.67M649.31 389.62V407.34M650.67 384.31H653.37M652.02 375.45V393.17M653.37 386.08H656.06M654.72 377.22V394.94M656.06 377.31H658.74M657.4 368.45V386.17M658.74 377.39H661.39M660.07 368.53V386.25M661.39 391.48H664.04M662.72 382.62V400.34M664.04 405.57H666.67M665.35 396.71V411.25M666.67 377.66H669.28M667.98 368.8V386.52M669.28 371.64H671.88M670.58 362.78V380.5M671.88 370.48H674.47M673.18 361.62V379.34M674.47 381.03H677.04M675.76 372.17V389.89M677.04 396.36H679.6M678.32 387.5V405.22M679.6 400.52H682.14M680.87 391.66V409.38M682.14 390.33H684.67M683.41 381.47V399.19M684.67 398.48H687.19M685.93 389.62V407.34M687.19 388.47H689.69M688.44 379.61V397.33M689.69 403.8H692.18M690.94 394.94V411.25M692.18 384.66H694.66M693.42 375.8V393.52M694.66 364.46H697.12M695.89 355.6V373.32M697.12 375.27H699.57M698.35 366.41V384.13M699.57 374.65H702.01M700.8 365.79V383.51M702.01 386.43H704.44M703.23 377.57V395.29M704.44 380.94H706.85M705.65 372.08V389.8M706.85 388.47H709.26M708.06 379.61V397.33M709.26 373.67H711.64M710.45 364.81V382.53M711.64 360.83H714.02M712.83 351.97V369.69M714.02 393.61H716.39M715.21 384.75V402.47M716.39 395.47H718.74M717.57 386.61V404.33M718.74 405.57H721.08M719.91 396.71V411.25M721.08 386.08H723.41M722.25 377.22V394.94M723.41 378.28H725.73M724.57 369.42V387.14M725.73 391.48H728.04M726.89 382.62V400.34M728.04 381.91H730.34M729.19 373.05V390.77M730.34 382.27H732.62M731.48 373.41V391.13M732.62 368.45H734.9M733.76 359.59V377.31M734.9 393.34H737.16M736.03 384.48V402.2M737.16 383.69H739.41M738.29 374.83V392.55M739.41 365.43H741.65M740.53 356.57V374.29M741.65 388.29H743.88M742.77 379.43V397.15M743.88 374.03H746.11M745 365.17V382.89M746.11 388.29H748.32M747.21 379.43V397.15M748.32 379.26H750.52M749.42 370.4V388.12M750.52 402.56H752.71M751.61 393.7V411.25M752.71 365.43H754.89M753.8 356.57V374.29M754.89 381.65H757.06M755.97 372.79V390.51M757.06 405.57H759.21M758.14 396.71V411.25M759.21 396.36H761.36M760.29 387.5V405.22M761.36 389.36H763.5M762.44 380.5V398.22M763.5 389.09H765.64M764.57 380.23V397.95M765.64 383.69H767.76M766.7 374.83V392.55M767.76 373.23H769.87M768.81 364.37V382.09M769.87 381.56H774.06M771.97 372.7V390.42M774.06 371.9H778.22M776.15 363.04V380.76M778.22 399.1H782.34M780.29 390.24V407.96M782.34 382.27H786.43M784.39 373.41V391.13M786.43 391.48H790.48M788.46 382.62V400.34M790.48 389.36H794.49M792.49 380.5V398.22M794.49 369.51H798.48M796.49 360.65V378.37M798.48 369.24H802.43M800.46 360.38V378.1M802.43 369.24H806.34M804.39 360.38V378.1M806.34 387.32H810.23M808.29 378.46V396.18M810.23 376.51H814.08M812.16 367.65V385.37" stroke="#1a1a1a" stroke-width="0.9" fill="none"/>
<text transform="translate(81.4 16.75) scale(1 1.03)" font-size="25" fill="#111" text-anchor="start" font-family="Liberation Serif, serif" >(a) Fit with Single−CIE Model</text>
<text transform="translate(162.9 46.8)" font-size="20.2" fill="#111" text-anchor="start" font-family="Liberation Serif, serif" >S XV Kα</text>
<text transform="translate(267 46.6)" font-size="19.8" fill="#111" text-anchor="start" font-family="Liberation Serif, serif" >Ar XVII Kα</text>
<text transform="translate(370.3 139)" font-size="25" fill="#ff1493" text-anchor="start" font-family="Liberation Serif, serif" >CIE Model</text>
<text transform="translate(122.9 222.5)" font-size="25.3" fill="#505050" text-anchor="start" font-family="Liberation Serif, serif" >CXB</text>
<text transform="translate(376.8 467.6)" font-size="25.5" fill="#111" text-anchor="start" font-family="Liberation Serif, serif" >Energy (keV)</text>
<text transform="translate(104.8 438.6)" font-size="26" fill="#111" text-anchor="middle" font-family="Liberation Serif, serif" >2</text>
<text transform="translate(296.14 441.1)" font-size="26" fill="#111" text-anchor="middle" font-family="Liberation Serif, serif" >3</text>
<text transform="translate(431.9 440.9)" font-size="26" fill="#111" text-anchor="middle" font-family="Liberation Serif, serif" >4</text>
<text transform="translate(537.2 438.4)" font-size="26" fill="#111" text-anchor="middle" font-family="Liberation Serif, serif" >5</text>
<text transform="translate(623.24 441.2)" font-size="26" fill="#111" text-anchor="middle" font-family="Liberation Serif, serif" >6</text>
<text transform="translate(695.98 441.2)" font-size="26" fill="#111" text-anchor="middle" font-family="Liberation Serif, serif" >7</text>
<text transform="translate(759 441.2)" font-size="26" fill="#111" text-anchor="middle" font-family="Liberation Serif, serif" >8</text>
<text transform="translate(814.58 441.2)" font-size="26" fill="#111" text-anchor="middle" font-family="Liberation Serif, serif" >9</text>
<text transform="translate(66.2 31) rotate(-90) scale(0.965 1)" font-size="26" fill="#111" text-anchor="middle" font-family="Liberation Serif, serif" >0.1</text>
<text transform="translate(66.2 171.15) rotate(-90) scale(0.965 1)" font-size="26" fill="#111" text-anchor="middle" font-family="Liberation Serif, serif" >0.01</text>
<text transform="translate(66.2 328.2) rotate(-90) scale(0.965 1)" font-size="26" fill="#111" text-anchor="start" font-family="Liberation Serif, serif" >10<tspan font-size="15" dy="-8">−3</tspan></text>
<text transform="translate(66.2 341.1) rotate(-90) scale(0.965 1)" font-size="26" fill="#111" text-anchor="middle" font-family="Liberation Serif, serif" >5</text>
<text transform="translate(66.2 385.3) rotate(-90) scale(0.965 1)" font-size="26" fill="#111" text-anchor="middle" font-family="Liberation Serif, serif" >0</text>
<text transform="translate(17.9 272.7) rotate(-90) scale(0.985 1.0)" font-size="26" fill="#111" text-anchor="start" font-family="Liberation Serif, serif" >Counts s<tspan font-size="15" dy="-7.3">−1</tspan><tspan dy="8.8"> keV</tspan><tspan font-size="15" dy="-8.6">−1</tspan></text>
<g fill="none" stroke="#111" stroke-linecap="round"><path d="M5.2 385.3L5.2 387.4L21.6 396.9L21.9 394.9Z" fill="#111" stroke-width="0.4" stroke-linejoin="round"/><path d="M18.3 384.4C21.5 384.6 23.2 386.3 22 388.2C20.8 389.8 17.5 389.6 13.7 390.6C10 391.5 6.3 391.8 5 393.8C4 395.6 5.8 396.9 8.9 397" stroke-width="1.15"/><path d="M20.4 385C22 385.6 22.7 386.9 22 388.2" stroke-width="1.9"/><path d="M5 393.8C4.3 395.2 5.2 396.3 6.8 396.8" stroke-width="1.9"/></g>
</svg>
</body></html>
